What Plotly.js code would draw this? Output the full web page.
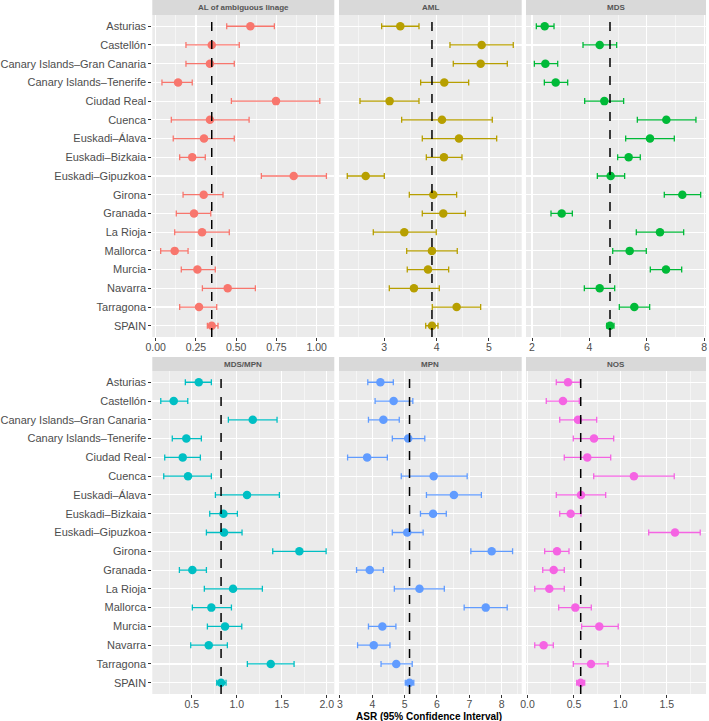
<!DOCTYPE html>
<html>
<head>
<meta charset="utf-8">
<script src="https://cdn.plot.ly/plotly-3.0.1.min.js"></script>
<style>html,body{margin:0;padding:0;background:#fff;}#chart{width:709px;height:721px;}</style>
</head>
<body>
<div id="chart"></div>
<script>
// ---- data ----
const regions = ["Asturias","Castellón","Canary Islands–Gran Canaria","Canary Islands–Tenerife","Ciudad Real","Cuenca","Euskadi–Álava","Euskadi–Bizkaia","Euskadi–Gipuzkoa","Girona","Granada","La Rioja","Mallorca","Murcia","Navarra","Tarragona","SPAIN"];
const groups = ["AL of ambiguous linage","AML","MDS","MDS/MPN","MPN","NOS"];

const alEst = [0.588,0.348,0.337,0.139,0.747,0.337,0.300,0.227,0.857,0.298,0.238,0.288,0.118,0.259,0.447,0.269,0.348];
const alLo  = [0.441,0.188,0.188,0.039,0.470,0.097,0.109,0.149,0.656,0.170,0.128,0.118,0.031,0.159,0.290,0.149,0.321];
const alHi  = [0.737,0.519,0.488,0.227,1.019,0.580,0.488,0.308,1.060,0.418,0.342,0.457,0.201,0.370,0.619,0.379,0.387];

const amlEst = [3.306,4.860,4.841,4.146,3.102,4.102,4.427,4.140,2.645,3.937,4.127,3.382,3.911,3.835,3.567,4.382,3.911];
const amlLo  = [2.950,4.255,4.318,3.695,2.536,3.332,3.726,3.803,2.293,3.478,3.726,2.790,3.428,3.439,3.096,3.917,3.791];
const amlHi  = [3.663,5.464,5.350,4.612,3.663,5.063,5.147,4.484,3.000,4.382,4.548,3.993,4.394,4.230,4.051,4.841,4.026];

const mdsEst = [2.441,4.357,2.464,2.824,4.519,6.678,6.109,5.366,4.739,7.235,3.033,6.457,5.401,6.666,4.357,5.563,4.716];
const mdsLo  = [2.150,3.776,2.081,2.429,3.834,5.668,5.262,4.983,4.275,6.607,2.661,5.632,4.810,6.120,3.822,5.040,4.601];
const mdsHi  = [2.766,4.948,2.894,3.242,5.191,7.710,6.956,5.771,5.226,7.874,3.404,7.282,5.980,7.213,4.879,6.098,4.855];

const mdsmpnEst = [0.578,0.300,1.178,0.440,0.400,0.459,1.114,0.852,0.859,1.696,0.507,0.959,0.718,0.870,0.689,1.378,0.826];
const mdsmpnLo  = [0.429,0.156,0.907,0.284,0.200,0.189,0.763,0.700,0.663,1.400,0.363,0.640,0.507,0.674,0.489,1.118,0.778];
const mdsmpnHi  = [0.718,0.456,1.448,0.607,0.596,0.718,1.474,1.007,1.059,1.993,0.663,1.285,0.941,1.056,0.896,1.637,0.881];

const mpnEst = [4.250,4.659,4.342,5.110,3.840,5.899,6.524,5.879,5.080,7.692,3.922,5.459,7.508,4.311,4.045,4.741,5.151];
const mpnLo  = [3.860,4.086,3.881,4.619,3.236,4.896,5.674,5.489,4.619,7.047,3.513,4.681,6.841,3.881,3.544,4.270,5.019];
const mpnHi  = [4.650,5.253,4.834,5.623,4.465,6.934,7.373,6.288,5.572,8.338,4.342,6.227,8.172,4.730,4.546,5.234,5.283];

const nosEst = [0.436,0.382,0.544,0.716,0.644,1.146,0.576,0.465,1.588,0.318,0.282,0.235,0.515,0.773,0.174,0.684,0.573];
const nosLo  = [0.310,0.202,0.347,0.493,0.396,0.713,0.310,0.347,1.305,0.185,0.164,0.078,0.336,0.583,0.078,0.493,0.530];
const nosHi  = [0.568,0.558,0.745,0.928,0.896,1.580,0.842,0.576,1.860,0.447,0.396,0.396,0.687,0.977,0.278,0.867,0.616];

const colors = ["#F8766D","#B79F00","#00BA38","#00BFC4","#619CFF","#F564E3"];
const xTitle = "ASR (95% Confidence Interval)";

// ---- layout geometry ----
const W = 709, H = 721;
const fx = p => p / W;
const fy = p => 1 - p / H;
const cols = [[152.3,334.3],[339,521.7],[526,706]];
const rows = [[15,337],[371,694]];
const strips = [[0,15],[357,371]];

const series = [
  {est: alEst, lo: alLo, hi: alHi, range: [-0.021,1.109], dtick: 0.25, tick0: 0, fmt: ".2f"},
  {est: amlEst, lo: amlLo, hi: amlHi, range: [2.135,5.625], dtick: 1, tick0: 0, fmt: "d"},
  {est: mdsEst, lo: mdsLo, hi: mdsHi, range: [1.79,8.06], dtick: 2, tick0: 0, fmt: "d"},
  {est: mdsmpnEst, lo: mdsmpnLo, hi: mdsmpnHi, range: [0.062,2.084], dtick: 0.5, tick0: 0, fmt: ".1f"},
  {est: mpnEst, lo: mpnLo, hi: mpnHi, range: [2.97,8.62], dtick: 1, tick0: 0, fmt: "d"},
  {est: nosEst, lo: nosLo, hi: nosHi, range: [-0.016,1.922], dtick: 0.5, tick0: 0, fmt: ".1f"}
];

const FONT = "Liberation Sans, Arial, Helvetica, sans-serif";
const traces = [];
const shapes = [];
const annotations = [];
const layout = {
  width: W, height: H,
  margin: {l: 0, r: 0, t: 0, b: 0},
  paper_bgcolor: "#ffffff",
  plot_bgcolor: "#EBEBEB",
  showlegend: false,
  font: {family: FONT, size: 11, color: "#4D4D4D"}
};

series.forEach((s, i) => {
  const r = Math.floor(i / 3), c = i % 3;
  const xn = i === 0 ? "x" : "x" + (i + 1);
  const yn = r === 0 ? "y" : "y2";
  traces.push({
    type: "scatter", mode: "markers",
    x: s.est, y: regions,
    xaxis: xn, yaxis: yn,
    marker: {size: 8.5, color: colors[i]},
    error_x: {
      type: "data", symmetric: false,
      array: s.est.map((v, k) => s.hi[k] - v),
      arrayminus: s.est.map((v, k) => v - s.lo[k]),
      color: colors[i], thickness: 1.3, width: 3
    },
    hoverinfo: "x+y"
  });
  const axKey = i === 0 ? "xaxis" : "xaxis" + (i + 1);
  layout[axKey] = {
    domain: [fx(cols[c][0]), fx(cols[c][1])],
    anchor: yn,
    range: s.range,
    tick0: s.tick0, dtick: s.dtick, tickmode: "linear",
    tickformat: s.fmt,
    showgrid: true, gridcolor: "#ffffff", gridwidth: 1.1,
    minor: {dtick: s.dtick / 2, tick0: s.tick0, showgrid: true, gridcolor: "#ffffff", gridwidth: 0.5, ticks: ""},
    zeroline: false, showline: false,
    ticks: "outside", ticklen: 3, tickwidth: 1, tickcolor: "#333333",
    ticklabelstandoff: -3,
    tickfont: {family: FONT, size: 10.5, color: "#4D4D4D"},
    fixedrange: true
  };
  // national reference line (SPAIN value)
  const national = s.est[regions.indexOf("SPAIN")];
  shapes.push({
    type: "line", xref: xn, yref: (r === 0 ? "y" : "y2") + " domain",
    x0: national, x1: national, y0: 0, y1: 1,
    line: {color: "#000000", width: 1.5, dash: "dash"}, layer: "above"
  });
  // strip
  shapes.push({
    type: "rect", xref: "paper", yref: "paper",
    x0: fx(cols[c][0]), x1: fx(cols[c][1]),
    y0: fy(strips[r][1]), y1: fy(strips[r][0]),
    fillcolor: "#D9D9D9", line: {width: 0}, layer: "below"
  });
  annotations.push({
    xref: "paper", yref: "paper",
    x: fx((cols[c][0] + cols[c][1]) / 2), y: fy((strips[r][0] + strips[r][1]) / 2),
    text: "<b>" + groups[i] + "</b>", showarrow: false,
    xanchor: "center", yanchor: "middle",
    font: {family: FONT, size: 8, color: "#555555"}
  });
});

["yaxis","yaxis2"].forEach((k, r) => {
  layout[k] = {
    domain: [fy(rows[r][1]), fy(rows[r][0])],
    anchor: r === 0 ? "x" : "x4",
    type: "category",
    categoryorder: "array", categoryarray: regions,
    range: [regions.length - 1 + 0.6, -0.6],
    showgrid: true, gridcolor: "#ffffff", gridwidth: 1.1,
    zeroline: false, showline: false,
    ticks: "outside", ticklen: 3, tickwidth: 1, tickcolor: "#333333",
    tickfont: {family: FONT, size: 11, color: "#4D4D4D"},
    fixedrange: true
  };
});

annotations.push({
  xref: "paper", yref: "paper",
  x: fx((cols[0][0] + cols[2][1]) / 2), y: fy(716),
  text: "<b>" + xTitle + "</b>", showarrow: false,
  xanchor: "center", yanchor: "middle",
  font: {family: FONT, size: 10, color: "#000000"}
});

layout.shapes = shapes;
layout.annotations = annotations;

Plotly.newPlot("chart", traces, layout, {displayModeBar: false, staticPlot: true});
</script>
</body>
</html>
